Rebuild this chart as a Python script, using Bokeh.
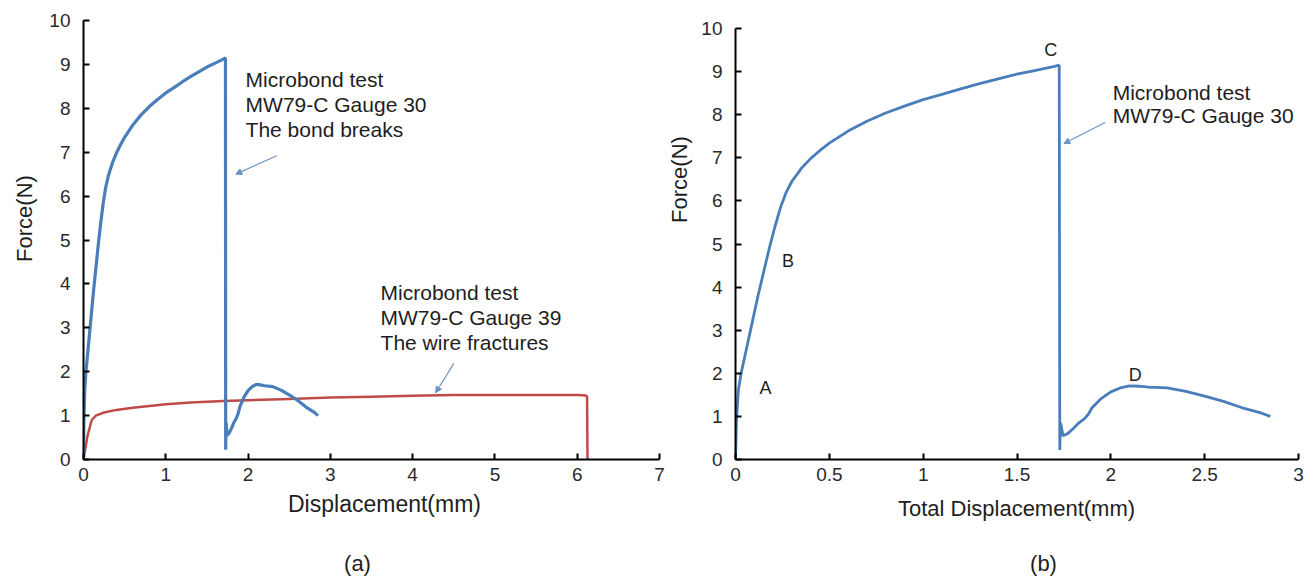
import math
from bokeh.plotting import figure
from bokeh.layouts import row, column
from bokeh.models import Range1d, FixedTicker, Label, Arrow, NormalHead
from bokeh.embed import file_html
from bokeh.resources import INLINE

FONT = "Liberation Sans"
BLUE = "#4A7EBB"
RED = "#BE4B48"
ARROW = "#6F93C4"
TXT = "#1e1e1e"

# ---------------- data ----------------
# Microbond test MW79-C Gauge 30 (bond breaks)
disp_g30 = [0.0, 0.005, 0.015, 0.03, 0.06, 0.09, 0.12, 0.15, 0.18, 0.21, 0.24, 0.27,
            0.30, 0.35, 0.40, 0.45, 0.50, 0.60, 0.70, 0.80, 0.90, 1.00, 1.10, 1.20,
            1.30, 1.40, 1.50, 1.60, 1.70, 1.725, 1.728, 1.732, 1.745, 1.77, 1.80,
            1.83, 1.86, 1.88, 1.90, 1.95, 2.00, 2.05, 2.10, 2.15, 2.20, 2.30, 2.40,
            2.50, 2.60, 2.70, 2.80, 2.85]
force_g30 = [0.0, 0.9, 1.6, 2.0, 2.6, 3.2, 3.8, 4.35, 4.9, 5.4, 5.85, 6.2,
             6.45, 6.75, 6.98, 7.17, 7.34, 7.62, 7.85, 8.04, 8.20, 8.35, 8.47, 8.60,
             8.72, 8.83, 8.94, 9.03, 9.12, 9.15, 0.22, 0.85, 0.55, 0.60, 0.72,
             0.85, 0.95, 1.05, 1.20, 1.42, 1.57, 1.66, 1.71, 1.70, 1.68, 1.66, 1.58,
             1.47, 1.35, 1.20, 1.08, 1.00]
# Microbond test MW79-C Gauge 39 (wire fractures)
disp_g39 = [0.0, 0.05, 0.10, 0.15, 0.25, 0.40, 0.60, 0.80, 1.00, 1.30, 1.70, 2.00,
            2.50, 3.00, 3.50, 4.00, 4.50, 5.00, 5.50, 6.00, 6.10, 6.12, 6.125]
force_g39 = [0.0, 0.55, 0.90, 1.00, 1.07, 1.13, 1.18, 1.22, 1.26, 1.30, 1.33, 1.35,
             1.38, 1.41, 1.43, 1.45, 1.47, 1.47, 1.47, 1.47, 1.46, 1.44, 0.0]

xticks_a = [0, 1, 2, 3, 4, 5, 6, 7]
xticks_b = [0, 0.5, 1, 1.5, 2, 2.5, 3]
xtick_labels_b = ["0", "0.5", "1", "1.5", "2", "2.5", "3"]
yticks = [0, 1, 2, 3, 4, 5, 6, 7, 8, 9, 10]
points_b = ["A", "B", "C", "D"]
points_b_x = [0.16, 0.28, 1.68, 2.13]
points_b_y = [1.65, 4.60, 9.49, 1.97]

TOTAL_H = 576
MAIN_H = 490


def style_axes(p):
    p.grid.visible = False
    p.outline_line_color = None
    p.background_fill_color = "white"
    p.border_fill_color = "white"
    for ax in list(p.xaxis) + list(p.yaxis):
        ax.axis_line_color = "black"
        ax.axis_line_width = 2
        ax.major_tick_line_color = "black"
        ax.major_tick_line_width = 2
        ax.major_tick_in = 6
        ax.major_tick_out = 0
        ax.minor_tick_line_color = None
        ax.major_label_text_font = FONT
        ax.major_label_text_font_size = "19px"
        ax.major_label_text_color = "#2a2a2a"
    for ax in p.xaxis:
        ax.major_label_standoff = 8
    for ax in p.yaxis:
        ax.major_label_standoff = 13


def add_text(p, x, y, text, size="21px", align="left", angle=0.0):
    p.add_layout(Label(x=x, y=y, text=text, text_font=FONT, text_font_size=size,
                       text_align=align, text_baseline="middle", text_color=TXT,
                       angle=angle))


def add_arrow(p, x0, y0, x1, y1):
    p.add_layout(Arrow(end=NormalHead(size=6, fill_color=ARROW, line_color=ARROW),
                       x_start=x0, y_start=y0, x_end=x1, y_end=y1,
                       line_color=ARROW, line_width=1.2))


def text_panel(w, h, left=0, right=0):
    """Blank figure for texts outside the plots; its frame spans canvas pixels
    left..w-right, and its data coordinates equal canvas pixels."""
    t = figure(width=w, height=h, x_range=Range1d(left, w - right), y_range=Range1d(h, 0),
               x_axis_type=None, y_axis_type=None, output_backend="svg",
               toolbar_location=None, min_border_left=left, min_border_right=right,
               min_border_top=0, min_border_bottom=0)
    t.grid.visible = False
    t.outline_line_color = None
    t.border_fill_color = "white"
    return t


# ---------------- panel (a) ----------------
ylab1 = text_panel(40, TOTAL_H)
add_text(ylab1, 24, 218, "Force(N)", size="22px", align="center", angle=math.pi / 2)

P1_W, P1_L, P1_R = 625, 43, 6
p1 = figure(width=P1_W, height=MAIN_H, x_range=Range1d(0, 7), y_range=Range1d(0, 10),
            output_backend="svg", toolbar_location=None,
            min_border_left=P1_L, min_border_right=P1_R, min_border_top=20,
            min_border_bottom=MAIN_H - 459)
p1.xaxis.ticker = FixedTicker(ticks=xticks_a)
p1.yaxis.ticker = FixedTicker(ticks=yticks)
style_axes(p1)

p1.line(disp_g39, force_g39, line_color=RED, line_width=2.5)
p1.line(disp_g30, force_g30, line_color=BLUE, line_width=3.2)

add_text(p1, 1.97, 8.65, "Microbond test")
add_text(p1, 1.97, 8.08, "MW79-C Gauge 30")
add_text(p1, 1.97, 7.51, "The bond breaks")
add_arrow(p1, 2.35, 6.92, 1.85, 6.50)

add_text(p1, 3.61, 3.80, "Microbond test")
add_text(p1, 3.61, 3.23, "MW79-C Gauge 39")
add_text(p1, 3.61, 2.66, "The wire fractures")
add_arrow(p1, 4.50, 2.19, 4.28, 1.52)

cap1 = text_panel(P1_W, TOTAL_H - MAIN_H, P1_L, P1_R)
add_text(cap1, 344, 13, "Displacement(mm)", size="23px", align="center")
add_text(cap1, 317, 73, "(a)", size="22px", align="center")

# ---------------- panel (b) ----------------
ylab2 = text_panel(28, TOTAL_H)
add_text(ylab2, 14, 179, "Force(N)", size="22px", align="center", angle=math.pi / 2)

P2_W, P2_L, P2_R = 617, 42, 12
p2 = figure(width=P2_W, height=MAIN_H, x_range=Range1d(0, 3), y_range=Range1d(0, 10),
            output_backend="svg", toolbar_location=None,
            min_border_left=P2_L, min_border_right=P2_R, min_border_top=28,
            min_border_bottom=MAIN_H - 459)
p2.xaxis.ticker = FixedTicker(ticks=xticks_b)
p2.xaxis.major_label_overrides = {t: l for t, l in zip(xticks_b, xtick_labels_b)}
p2.yaxis.ticker = FixedTicker(ticks=yticks)
style_axes(p2)

p2.line(disp_g30, force_g30, line_color=BLUE, line_width=2.8)

for t, x, y in zip(points_b, points_b_x, points_b_y):
    add_text(p2, x, y, t, size="18px", align="center")

add_text(p2, 2.01, 8.52, "Microbond test")
add_text(p2, 2.01, 7.97, "MW79-C Gauge 30")
add_arrow(p2, 1.97, 7.82, 1.75, 7.33)

cap2 = text_panel(P2_W, TOTAL_H - MAIN_H, P2_L, P2_R)
add_text(cap2, 323, 18, "Total Displacement(mm)", size="22px", align="center")
add_text(cap2, 350, 73, "(b)", size="22px", align="center")

layout = row(ylab1, column(p1, cap1, spacing=0), ylab2, column(p2, cap2, spacing=0),
             spacing=0)
open("out.html", "w").write(file_html(layout, INLINE))
